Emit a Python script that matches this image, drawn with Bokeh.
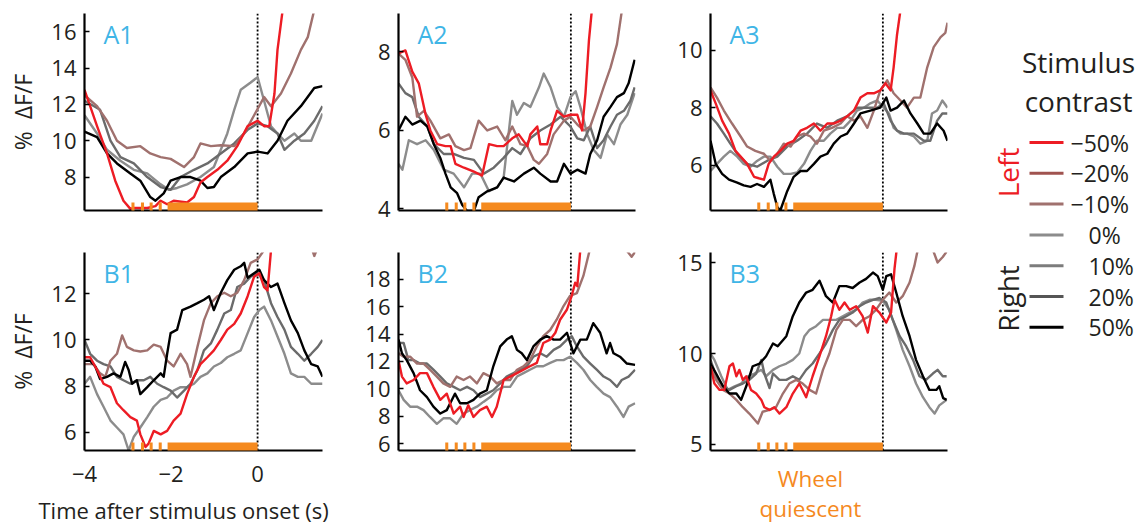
import math
from bokeh.plotting import figure
from bokeh.layouts import row, column
from bokeh.models import Range1d, FixedTicker, Span, BoxAnnotation, Label, LinearAxis
from bokeh.core.properties import value
from bokeh.embed import file_html
from bokeh.resources import INLINE

FONT = "Open Sans"
TEXT = "#231f20"
PANEL_BLUE = "#3fb5e6"
ORANGE = "#f58a1f"

# ---------------------------------------------------------------- data
# Time (s) relative to stimulus onset and mean % dF/F for each contrast.
# Series shown in every panel: -50% (red), -10% (brown), 0% (light gray),
# 20% (dark gray), 50% (black).

# Panel A1
A1_NEG50_T = [-4.00, -3.71, -3.48, -3.29, -3.10, -2.94, -2.86, -2.55, -2.36, -2.24, -2.09, -1.94, -1.63, -1.47, -1.32, -1.16, -0.93, -0.70, -0.47, -0.23, 0.00, 0.15, 0.27, 0.39, 0.46, 0.58]
A1_NEG50_V = [12.8, 10.8, 9.3, 7.8, 6.7, 6.25, 6.3, 6.3, 6.4, 6.7, 6.5, 6.7, 6.6, 6.9, 7.7, 8.0, 8.4, 8.9, 9.7, 10.8, 11.1, 10.8, 10.8, 12.6, 15.0, 17.2]
A1_NEG10_T = [-4.00, -3.71, -3.48, -3.25, -3.02, -2.71, -2.48, -2.24, -2.01, -1.70, -1.47, -1.32, -1.08, -0.85, -0.54, -0.31, -0.08, 0.15, 0.31, 0.54, 0.77, 1.00, 1.16, 1.31]
A1_NEG10_V = [12.5, 11.9, 11.1, 10.0, 9.6, 9.7, 9.3, 9.1, 9.0, 8.55, 9.1, 9.85, 9.7, 9.75, 9.7, 10.4, 11.4, 12.4, 11.9, 12.6, 13.7, 15.0, 15.7, 17.2]
A1_POS0_T = [-4.00, -3.71, -3.48, -3.17, -2.86, -2.55, -2.24, -2.05, -1.86, -1.63, -1.32, -1.01, -0.70, -0.54, -0.39, -0.16, 0.00, 0.15, 0.31, 0.46, 0.62, 0.85, 1.00, 1.24, 1.50]
A1_POS0_V = [11.4, 10.4, 9.5, 8.9, 8.4, 8.2, 7.6, 7.3, 7.4, 7.6, 8.0, 8.55, 10.4, 11.7, 12.8, 13.2, 13.5, 12.2, 10.8, 10.4, 10.0, 10.4, 10.0, 10.0, 11.5]
A1_POS20_T = [-4.00, -3.64, -3.40, -3.17, -2.86, -2.55, -2.24, -2.01, -1.78, -1.47, -1.16, -0.85, -0.54, -0.23, 0.00, 0.23, 0.46, 0.62, 0.85, 1.08, 1.31, 1.50]
A1_POS20_V = [12.2, 11.7, 10.0, 9.1, 8.75, 8.0, 7.45, 7.3, 8.0, 8.4, 8.75, 9.3, 9.85, 10.6, 10.95, 10.8, 10.4, 9.5, 10.0, 10.4, 11.1, 11.9]
A1_POS50_T = [-4.00, -3.71, -3.48, -3.25, -2.94, -2.71, -2.48, -2.36, -2.17, -2.01, -1.78, -1.55, -1.32, -1.16, -1.01, -0.85, -0.54, -0.23, 0.00, 0.23, 0.46, 0.69, 1.00, 1.31, 1.50]
A1_POS50_V = [10.5, 10.2, 9.3, 8.75, 8.2, 7.8, 6.9, 6.7, 7.1, 7.8, 8.0, 8.0, 7.8, 7.4, 7.45, 8.0, 8.55, 9.3, 9.4, 9.3, 10.0, 11.1, 11.9, 12.9, 13.0]

# Panel A2
A2_NEG50_T = [-4.00, -3.84, -3.68, -3.53, -3.37, -3.26, -3.10, -2.91, -2.79, -2.68, -2.48, -2.25, -2.06, -1.90, -1.71, -1.56, -1.36, -1.21, -1.01, -0.94, -0.78, -0.71, -0.55, -0.47, -0.32, -0.16, -0.01, 0.15, 0.26, 0.34, 0.42, 0.49]
A2_NEG50_V = [7.96, 8.04, 7.5, 7.2, 6.4, 6.0, 5.65, 5.6, 5.6, 5.15, 5.05, 4.95, 4.85, 5.65, 5.6, 5.6, 5.8, 5.9, 5.6, 5.9, 6.1, 5.65, 5.65, 6.0, 6.5, 6.35, 6.4, 6.4, 6.0, 6.95, 8.3, 9.1]
A2_NEG10_T = [-4.00, -3.84, -3.68, -3.57, -3.41, -3.26, -3.03, -2.83, -2.68, -2.48, -2.33, -2.14, -1.94, -1.71, -1.52, -1.36, -1.17, -1.01, -0.86, -0.74, -0.55, -0.40, -0.16, -0.01, 0.15, 0.30, 0.45, 0.61, 0.76, 0.92, 1.07, 1.19]
A2_NEG10_V = [7.96, 7.8, 7.35, 6.35, 6.5, 6.25, 5.8, 5.9, 5.6, 5.5, 5.55, 6.25, 6.0, 6.1, 5.75, 6.1, 5.65, 5.6, 5.25, 5.15, 5.4, 5.9, 6.25, 6.35, 6.15, 6.0, 6.1, 6.6, 7.1, 7.6, 8.2, 9.1]
A2_POS0_T = [-4.00, -3.91, -3.76, -3.57, -3.37, -3.18, -2.95, -2.72, -2.48, -2.29, -2.10, -1.90, -1.71, -1.56, -1.36, -1.25, -1.09, -0.94, -0.74, -0.63, -0.47, -0.32, -0.16, -0.01, 0.11, 0.22, 0.38, 0.53, 0.69, 0.84, 1.00, 1.15, 1.31, 1.48]
A2_POS0_V = [5.15, 5.0, 5.75, 5.65, 5.75, 5.5, 5.0, 4.9, 4.55, 4.9, 4.9, 4.45, 4.55, 4.8, 6.75, 6.4, 6.7, 6.6, 7.1, 7.45, 7.1, 6.6, 6.35, 6.85, 7.0, 6.6, 5.9, 5.5, 5.3, 5.9, 5.65, 6.15, 6.4, 6.95]
A2_POS20_T = [-4.00, -3.84, -3.68, -3.53, -3.33, -3.18, -2.95, -2.72, -2.48, -2.25, -2.02, -1.79, -1.56, -1.36, -1.17, -0.94, -0.71, -0.47, -0.24, -0.01, 0.15, 0.30, 0.45, 0.61, 0.76, 0.92, 1.07, 1.23, 1.38, 1.48]
A2_POS20_V = [7.2, 6.95, 6.85, 6.35, 6.1, 5.65, 5.4, 5.4, 5.3, 5.25, 4.9, 5.05, 5.3, 5.55, 5.4, 5.8, 6.0, 6.15, 6.35, 6.1, 5.8, 5.75, 6.1, 5.55, 5.75, 6.1, 6.4, 6.5, 6.75, 7.1]
A2_POS50_T = [-4.00, -3.84, -3.68, -3.49, -3.33, -3.18, -3.03, -2.91, -2.79, -2.64, -2.52, -2.41, -2.25, -2.14, -1.94, -1.71, -1.56, -1.32, -1.09, -0.86, -0.71, -0.47, -0.32, -0.16, -0.01, 0.15, 0.34, 0.45, 0.61, 0.76, 0.92, 1.07, 1.23, 1.34, 1.48]
A2_POS50_V = [6.0, 6.35, 6.15, 6.25, 6.1, 5.65, 5.3, 4.9, 4.55, 4.4, 4.1, 3.95, 3.95, 4.3, 4.45, 4.55, 4.8, 4.7, 4.9, 5.05, 4.9, 4.7, 4.7, 5.15, 4.9, 5.0, 4.9, 5.4, 5.75, 6.35, 6.6, 6.85, 6.95, 7.2, 7.8]

# Panel A3
A3_NEG50_T = [-4.00, -3.88, -3.73, -3.57, -3.42, -3.30, -3.15, -2.99, -2.88, -2.76, -2.65, -2.53, -2.38, -2.22, -2.07, -1.91, -1.76, -1.60, -1.45, -1.29, -1.14, -0.98, -0.83, -0.67, -0.52, -0.36, -0.21, -0.06, 0.06, 0.18, 0.25, 0.33, 0.41]
A3_NEG50_V = [8.6, 8.15, 7.55, 7.1, 6.5, 6.3, 6.05, 5.6, 5.55, 5.5, 6.05, 6.3, 6.5, 6.75, 6.85, 7.2, 7.3, 7.45, 7.2, 7.45, 7.45, 7.55, 7.7, 7.9, 8.35, 8.5, 8.5, 8.6, 8.85, 8.6, 9.4, 10.55, 11.4]
A3_NEG10_T = [-4.00, -3.85, -3.69, -3.50, -3.30, -3.15, -2.96, -2.76, -2.61, -2.45, -2.30, -2.14, -1.99, -1.83, -1.68, -1.53, -1.37, -1.18, -0.98, -0.83, -0.67, -0.52, -0.36, -0.21, -0.06, 0.10, 0.25, 0.41, 0.56, 0.72, 0.87, 1.03, 1.18, 1.34, 1.45, 1.50]
A3_NEG10_V = [8.7, 8.35, 7.9, 7.45, 7.0, 6.65, 6.5, 6.4, 6.15, 6.4, 6.75, 6.65, 7.0, 7.1, 7.0, 6.75, 7.2, 7.3, 7.45, 7.7, 7.55, 7.7, 7.3, 7.9, 8.6, 8.95, 8.5, 8.25, 8.0, 8.35, 8.35, 9.4, 10.1, 10.45, 10.6, 10.95]
A3_POS0_T = [-4.00, -3.85, -3.69, -3.54, -3.38, -3.23, -3.07, -2.92, -2.76, -2.61, -2.45, -2.30, -2.14, -1.99, -1.83, -1.68, -1.53, -1.37, -1.22, -1.06, -0.91, -0.75, -0.60, -0.44, -0.29, -0.13, 0.02, 0.14, 0.25, 0.41, 0.56, 0.72, 0.87, 1.03, 1.14, 1.26, 1.38, 1.50]
A3_POS0_V = [5.8, 6.05, 6.3, 6.5, 6.3, 6.05, 5.95, 6.15, 6.3, 6.3, 5.95, 5.7, 5.7, 5.75, 6.05, 6.5, 6.85, 6.85, 7.1, 7.3, 7.3, 7.55, 7.9, 8.0, 8.15, 8.25, 8.0, 7.8, 7.3, 7.1, 7.1, 7.0, 6.75, 6.85, 7.8, 7.9, 8.25, 8.0]
A3_POS20_T = [-4.00, -3.85, -3.69, -3.54, -3.38, -3.15, -2.92, -2.69, -2.45, -2.22, -1.99, -1.76, -1.53, -1.29, -1.06, -0.83, -0.60, -0.36, -0.13, 0.02, 0.18, 0.33, 0.49, 0.72, 0.95, 1.10, 1.26, 1.38, 1.50]
A3_POS20_V = [7.7, 7.45, 7.1, 6.75, 6.4, 6.05, 5.95, 6.15, 6.3, 6.65, 6.85, 7.1, 7.45, 7.3, 7.55, 7.7, 8.0, 8.0, 8.0, 8.15, 7.55, 7.2, 7.1, 7.1, 6.85, 6.85, 7.55, 7.8, 7.8]
A3_POS50_T = [-4.00, -3.88, -3.73, -3.57, -3.38, -3.23, -3.07, -2.92, -2.76, -2.61, -2.53, -2.45, -2.38, -2.22, -2.07, -1.91, -1.76, -1.60, -1.45, -1.29, -1.14, -0.98, -0.83, -0.67, -0.52, -0.29, -0.06, 0.08, 0.18, 0.33, 0.49, 0.64, 0.80, 0.95, 1.10, 1.26, 1.41, 1.50]
A3_POS50_V = [6.85, 6.05, 5.7, 5.5, 5.4, 5.3, 5.25, 5.35, 5.25, 5.5, 5.0, 4.55, 4.43, 5.1, 5.6, 5.8, 5.8, 6.05, 6.3, 6.4, 6.75, 7.0, 7.1, 7.45, 7.8, 7.9, 8.0, 8.35, 7.9, 8.0, 8.25, 7.8, 7.45, 7.1, 7.1, 7.45, 7.2, 6.85]

# Panel B1
B1_NEG50_T = [-4.00, -3.87, -3.71, -3.56, -3.40, -3.25, -3.10, -2.94, -2.79, -2.71, -2.59, -2.52, -2.40, -2.24, -2.09, -1.94, -1.78, -1.63, -1.47, -1.32, -1.16, -1.01, -0.85, -0.70, -0.54, -0.39, -0.23, -0.08, 0.04, 0.15, 0.23, 0.31]
B1_NEG50_V = [9.25, 9.25, 8.7, 8.1, 7.95, 7.25, 6.95, 6.65, 6.5, 5.9, 5.35, 5.5, 6.05, 5.9, 6.05, 6.5, 6.8, 7.65, 8.4, 8.95, 9.25, 9.55, 10.0, 10.45, 10.7, 11.15, 11.9, 12.75, 12.9, 12.3, 12.15, 13.9]
B1_NEG10_T = [-4.00, -3.79, -3.64, -3.52, -3.40, -3.25, -3.13, -3.02, -2.86, -2.71, -2.55, -2.40, -2.24, -2.09, -1.94, -1.78, -1.63, -1.55, -1.39, -1.24, -1.08, -0.93, -0.77, -0.62, -0.47, -0.31, -0.16, 0.00, 0.15, 1.16, 1.31, 1.43]
B1_NEG10_V = [8.95, 8.95, 8.55, 8.4, 9.1, 9.4, 10.2, 9.7, 9.55, 9.5, 9.55, 9.8, 9.7, 9.1, 8.85, 9.4, 8.95, 8.4, 9.7, 10.85, 11.6, 11.9, 12.05, 11.9, 12.05, 12.6, 13.35, 13.5, 13.9, 14.5, 13.65, 14.2]
B1_POS0_T = [-4.00, -3.87, -3.71, -3.56, -3.40, -3.25, -3.10, -2.98, -2.86, -2.71, -2.55, -2.40, -2.24, -2.09, -1.94, -1.78, -1.63, -1.47, -1.32, -1.16, -1.01, -0.85, -0.70, -0.54, -0.39, -0.23, -0.08, 0.04, 0.15, 0.31, 0.46, 0.62, 0.77, 0.93, 1.08, 1.24, 1.39, 1.50]
B1_POS0_V = [8.1, 8.4, 7.65, 7.1, 6.5, 6.2, 5.9, 5.2, 5.8, 6.2, 6.65, 7.1, 7.4, 7.5, 7.8, 7.95, 7.95, 8.1, 8.4, 8.55, 8.85, 9.0, 9.25, 9.4, 9.55, 10.3, 11.0, 11.3, 11.45, 10.85, 10.15, 9.4, 8.55, 8.4, 8.4, 8.1, 8.1, 8.1]
B1_POS20_T = [-4.00, -3.87, -3.71, -3.56, -3.40, -3.25, -3.10, -2.94, -2.79, -2.63, -2.48, -2.32, -2.17, -2.01, -1.86, -1.70, -1.55, -1.39, -1.24, -1.08, -0.93, -0.77, -0.62, -0.47, -0.31, -0.16, 0.00, 0.15, 0.31, 0.46, 0.62, 0.77, 0.93, 1.08, 1.24, 1.39, 1.50]
B1_POS20_V = [10.0, 9.4, 9.1, 8.95, 8.85, 8.4, 8.25, 8.1, 8.25, 8.25, 8.4, 8.1, 7.95, 7.8, 7.5, 7.8, 8.1, 8.7, 9.55, 9.85, 10.45, 11.15, 11.3, 12.3, 12.45, 12.75, 12.9, 12.6, 11.6, 11.0, 10.45, 9.7, 9.4, 9.1, 9.4, 9.7, 10.0]
B1_POS50_T = [-4.00, -3.87, -3.75, -3.64, -3.48, -3.33, -3.17, -3.06, -2.98, -2.90, -2.79, -2.71, -2.55, -2.40, -2.24, -2.17, -2.09, -2.01, -1.86, -1.74, -1.55, -1.39, -1.24, -1.12, -1.01, -0.85, -0.70, -0.54, -0.39, -0.31, -0.23, -0.08, 0.04, 0.15, 0.31, 0.46, 0.62, 0.77, 0.93, 1.08, 1.24, 1.39, 1.50]
B1_POS50_V = [9.1, 9.1, 8.85, 8.3, 8.4, 8.55, 8.4, 9.05, 8.7, 8.1, 8.25, 7.65, 7.95, 8.25, 8.55, 8.4, 9.4, 10.3, 10.45, 11.3, 11.45, 11.6, 11.75, 11.9, 11.3, 12.05, 12.6, 13.05, 13.2, 13.35, 12.7, 12.9, 13.05, 12.6, 12.3, 12.45, 11.6, 10.85, 10.3, 9.55, 8.95, 8.85, 8.4]

# Panel B2
B2_NEG50_T = [-4.00, -3.92, -3.81, -3.65, -3.50, -3.34, -3.19, -3.03, -2.88, -2.72, -2.57, -2.49, -2.38, -2.26, -2.11, -1.95, -1.83, -1.72, -1.56, -1.41, -1.25, -1.10, -0.95, -0.79, -0.64, -0.48, -0.36, -0.25, -0.09, 0.02, 0.10, 0.15, 0.22]
B2_NEG50_V = [12.1, 10.9, 10.4, 10.65, 11.15, 11.15, 10.15, 9.2, 9.65, 8.2, 8.7, 7.95, 8.8, 7.95, 8.45, 8.7, 7.95, 8.7, 10.65, 10.9, 11.15, 11.4, 11.65, 11.9, 13.35, 13.6, 14.1, 15.05, 15.8, 16.8, 17.75, 17.5, 20.2]
B2_NEG10_T = [-4.00, -3.88, -3.73, -3.57, -3.42, -3.27, -3.11, -2.96, -2.80, -2.65, -2.49, -2.34, -2.18, -2.03, -1.87, -1.72, -1.56, -1.41, -1.25, -1.10, -0.95, -0.79, -0.64, -0.48, -0.33, -0.17, -0.02, 0.14, 0.29, 0.45, 1.22, 1.41, 1.49]
B2_NEG10_V = [12.6, 12.35, 12.35, 11.85, 11.85, 11.4, 10.9, 10.4, 10.15, 10.9, 10.65, 10.9, 10.4, 11.15, 10.9, 10.4, 10.65, 10.65, 11.4, 11.65, 12.1, 13.1, 13.85, 14.3, 15.05, 16.05, 16.8, 17.0, 18.25, 20.3, 20.4, 19.65, 20.0]
B2_POS0_T = [-4.00, -3.88, -3.73, -3.57, -3.42, -3.27, -3.11, -2.96, -2.80, -2.65, -2.49, -2.34, -2.18, -2.03, -1.87, -1.72, -1.56, -1.41, -1.25, -1.10, -0.95, -0.79, -0.64, -0.48, -0.33, -0.17, -0.02, 0.14, 0.29, 0.45, 0.60, 0.76, 0.91, 1.07, 1.22, 1.34, 1.49]
B2_POS0_V = [9.9, 9.2, 8.7, 8.7, 8.45, 7.95, 7.45, 7.85, 7.85, 7.45, 8.2, 8.45, 8.7, 9.05, 9.4, 9.9, 10.15, 10.15, 10.9, 11.15, 11.4, 11.65, 11.65, 11.9, 12.1, 12.1, 12.35, 11.9, 11.4, 10.65, 10.15, 9.65, 9.4, 8.7, 7.95, 8.7, 8.95]
B2_POS20_T = [-4.00, -3.88, -3.77, -3.65, -3.50, -3.34, -3.19, -3.03, -2.88, -2.72, -2.57, -2.41, -2.26, -2.11, -1.95, -1.80, -1.64, -1.49, -1.33, -1.18, -1.02, -0.87, -0.71, -0.56, -0.40, -0.25, -0.09, 0.02, 0.14, 0.29, 0.45, 0.60, 0.76, 0.91, 1.07, 1.18, 1.34, 1.49]
B2_POS20_V = [13.35, 13.35, 12.1, 12.1, 11.85, 11.85, 11.4, 10.9, 10.4, 10.15, 9.9, 10.15, 9.9, 9.4, 9.65, 9.9, 10.4, 10.9, 11.15, 11.4, 11.65, 12.35, 12.6, 12.35, 12.85, 13.1, 13.6, 13.85, 13.1, 12.35, 11.85, 11.4, 10.9, 10.65, 10.15, 10.65, 10.9, 11.4]
B2_POS50_T = [-4.00, -3.92, -3.81, -3.65, -3.50, -3.34, -3.19, -3.03, -2.88, -2.69, -2.57, -2.41, -2.26, -2.11, -1.95, -1.80, -1.64, -1.49, -1.37, -1.25, -1.14, -1.02, -0.87, -0.71, -0.56, -0.40, -0.25, -0.09, 0.06, 0.22, 0.37, 0.52, 0.68, 0.83, 0.91, 0.99, 1.14, 1.30, 1.49]
B2_POS50_V = [13.6, 12.6, 12.1, 11.15, 9.9, 9.4, 8.7, 8.2, 8.45, 9.65, 8.95, 8.95, 9.2, 9.65, 9.9, 11.65, 13.1, 13.6, 13.85, 12.85, 12.6, 12.1, 13.1, 13.6, 13.85, 13.6, 13.6, 14.1, 12.6, 13.6, 13.6, 14.8, 14.1, 12.6, 13.35, 12.6, 12.35, 11.85, 11.75]

# Panel B3
B3_NEG50_T = [-4.00, -3.91, -3.79, -3.68, -3.56, -3.48, -3.40, -3.33, -3.25, -3.17, -3.06, -2.94, -2.82, -2.75, -2.63, -2.52, -2.40, -2.24, -2.09, -1.94, -1.78, -1.63, -1.47, -1.32, -1.20, -1.12, -1.01, -0.89, -0.77, -0.62, -0.47, -0.35, -0.23, -0.08, 0.08, 0.19, 0.27, 0.32]
B3_NEG50_V = [9.3, 8.35, 8.0, 8.0, 9.3, 9.45, 8.75, 9.1, 8.55, 8.75, 8.0, 7.8, 7.45, 7.05, 6.9, 7.05, 6.7, 7.05, 7.8, 8.35, 7.6, 8.75, 9.85, 10.95, 12.05, 12.95, 12.4, 12.8, 12.4, 12.6, 12.05, 11.15, 12.6, 12.25, 11.7, 12.25, 14.65, 15.7]
B3_NEG10_T = [-4.00, -3.87, -3.71, -3.56, -3.40, -3.25, -3.10, -2.90, -2.79, -2.63, -2.48, -2.32, -2.17, -2.01, -1.86, -1.70, -1.55, -1.39, -1.24, -1.08, -0.93, -0.77, -0.62, -0.47, -0.31, -0.16, 0.00, 0.15, 0.31, 0.46, 0.62, 0.73, 0.81, 1.16, 1.27, 1.39, 1.48]
B3_NEG10_V = [9.3, 8.55, 8.0, 7.8, 7.45, 7.05, 6.7, 6.15, 6.8, 6.9, 7.05, 7.8, 8.35, 8.55, 8.35, 8.0, 7.8, 9.1, 10.0, 11.3, 11.85, 11.85, 11.5, 11.85, 12.05, 12.4, 12.95, 13.35, 12.8, 13.15, 13.9, 14.8, 15.7, 15.7, 15.0, 15.3, 15.6]
B3_POS0_T = [-4.00, -3.91, -3.75, -3.60, -3.44, -3.29, -3.13, -2.98, -2.82, -2.71, -2.55, -2.40, -2.24, -2.09, -1.94, -1.82, -1.70, -1.55, -1.39, -1.24, -1.08, -0.93, -0.77, -0.62, -0.47, -0.31, -0.16, 0.00, 0.15, 0.31, 0.46, 0.62, 0.77, 0.93, 1.08, 1.20, 1.31, 1.48]
B3_POS0_V = [10.0, 9.65, 8.75, 8.0, 8.2, 8.35, 8.75, 8.9, 9.1, 8.75, 9.1, 9.3, 9.45, 9.65, 10.0, 10.95, 11.3, 11.5, 11.85, 11.85, 11.85, 12.05, 12.25, 12.4, 12.8, 12.95, 12.95, 12.9, 12.4, 11.3, 10.2, 9.3, 8.35, 7.6, 7.05, 6.7, 7.15, 7.45]
B3_POS20_T = [-4.00, -3.87, -3.71, -3.56, -3.40, -3.25, -3.10, -2.94, -2.82, -2.75, -2.63, -2.55, -2.40, -2.24, -2.09, -1.94, -1.78, -1.63, -1.47, -1.32, -1.16, -1.01, -0.85, -0.70, -0.54, -0.39, -0.23, -0.08, 0.08, 0.23, 0.39, 0.54, 0.70, 0.85, 1.00, 1.16, 1.27, 1.39, 1.48]
B3_POS20_V = [9.65, 8.75, 8.2, 8.0, 8.2, 8.35, 8.55, 8.9, 9.65, 8.9, 8.1, 8.9, 8.55, 8.55, 8.75, 8.55, 9.1, 9.45, 10.0, 10.55, 11.3, 11.85, 12.05, 12.25, 12.6, 12.8, 12.95, 13.05, 12.8, 11.85, 10.95, 10.4, 9.65, 8.75, 8.55, 8.9, 9.1, 8.75, 8.75]
B3_POS50_T = [-4.00, -3.87, -3.71, -3.56, -3.40, -3.29, -3.17, -3.02, -2.86, -2.71, -2.55, -2.44, -2.24, -2.09, -1.94, -1.78, -1.63, -1.47, -1.32, -1.16, -1.01, -0.85, -0.70, -0.54, -0.39, -0.23, -0.12, 0.00, 0.08, 0.19, 0.31, 0.46, 0.62, 0.77, 0.93, 1.08, 1.24, 1.31, 1.40, 1.48]
B3_POS50_V = [9.45, 8.9, 8.2, 7.8, 7.8, 7.45, 8.2, 9.3, 9.45, 9.85, 10.55, 10.4, 10.95, 12.05, 12.8, 13.35, 13.5, 14.0, 13.15, 12.8, 13.7, 13.7, 13.6, 13.9, 14.1, 14.45, 14.25, 13.5, 14.25, 14.35, 13.35, 12.05, 10.95, 9.65, 8.75, 8.0, 8.0, 8.2, 7.55, 7.45]

# Axis limits and ticks
X_LIMITS = (-4.0, 1.5)
B1_XTICKS = [-4, -2, 0]
Y_LIMITS = {"A1": (6.16, 17.0), "A2": (3.96, 8.98), "A3": (4.43, 11.27),
            "B1": (5.2, 13.8), "B2": (5.5, 19.96), "B3": (4.67, 15.55)}
Y_TICKS = {"A1": [8, 10, 12, 14, 16], "A2": [4, 6, 8], "A3": [6, 8, 10],
           "B1": [6, 8, 10, 12], "B2": [6, 8, 10, 12, 14, 16, 18], "B3": [5, 10, 15]}

# Wheel-quiescent period (s): short bouts, then continuous until onset
QUIESCENT_BOUTS = [-2.88, -2.66, -2.46, -2.25]
QUIESCENT_START = -2.08
QUIESCENT_END = 0.0

# Legend entries
CONTRAST_LABELS = ["\u221250%", "\u221220%", "\u221210%", "0%", "10%", "20%", "50%"]
CONTRAST_COLORS = ["#ed1c24", "#a0534f", "#a0716e", "#8c8c8c", "#7c7c7c", "#555555", "#000000"]

# Series drawn in every panel: key -> colour (drawing order = list order)
SERIES = [("POS0", "#8c8c8c"), ("POS20", "#6b6b6b"), ("NEG10", "#a0716e"),
          ("POS50", "#000000"), ("NEG50", "#ed1c24")]

# Where the texts under the lower panels are centred (s on the time axis)
TIME_TITLE_AT = -1.71
QUIESCENT_NOTE_AT = -1.68

# ---------------------------------------------------------------- layout
ROW_A = dict(top=13, frame_h=197, bottom=20)
ROW_B = dict(top=22, frame_h=198, bottom=79)
COL_1 = dict(left=84, frame_w=238, right=13)
COL_2 = dict(left=63, frame_w=237, right=7)
COL_3 = dict(left=68, frame_w=237, right=8)
TOTAL_H = 529


def series_for(name):
    g = globals()
    return [(g[f"{name}_{key}_T"], g[f"{name}_{key}_V"], color) for key, color in SERIES]


def style_axis(ax, size="22px", color=TEXT):
    ax.axis_line_width = 2.2
    ax.axis_line_color = "black"
    ax.major_tick_line_color = "black"
    ax.major_tick_line_width = 1.5
    ax.minor_tick_line_color = None
    ax.major_label_text_font = FONT
    ax.major_label_text_font_size = size
    ax.major_label_text_color = color


def text_axis(at, text, standoff, size, color):
    """An extra time axis below a panel that only carries one text."""
    ax = LinearAxis(ticker=FixedTicker(ticks=[at]), major_label_overrides={at: text})
    style_axis(ax, size, color)
    ax.axis_line_color = None
    ax.major_tick_in = 0
    ax.major_tick_out = 0
    ax.major_label_standoff = standoff
    return ax


def make_panel(name, rowg, colg, first_col=False):
    ylo, yhi = Y_LIMITS[name]
    fw, fh = colg["frame_w"], rowg["frame_h"]
    p = figure(width=colg["left"] + fw + colg["right"],
               height=rowg["top"] + fh + rowg["bottom"],
               x_range=Range1d(*X_LIMITS), y_range=Range1d(ylo, yhi),
               output_backend="svg", toolbar_location=None,
               min_border_left=colg["left"], min_border_right=colg["right"],
               min_border_top=rowg["top"], min_border_bottom=rowg["bottom"])
    p.outline_line_color = None
    p.grid.visible = False

    ux = (X_LIMITS[1] - X_LIMITS[0]) / fw   # data units per pixel
    uy = (yhi - ylo) / fh

    style_axis(p.xaxis[0])
    style_axis(p.yaxis[0])

    p.yaxis.ticker = FixedTicker(ticks=Y_TICKS[name])
    p.yaxis.major_tick_in = 5
    p.yaxis.major_tick_out = 0
    p.yaxis.major_label_standoff = 8
    if first_col:
        p.yaxis.axis_label = "%\u00a0\u00a0\u0394F/F"
        p.yaxis.axis_label_text_font = FONT
        p.yaxis.axis_label_text_font_size = "23px"
        p.yaxis.axis_label_text_font_style = "normal"
        p.yaxis.axis_label_text_color = TEXT
        p.yaxis.axis_label_standoff = 9

    p.xaxis.major_tick_in = 0
    p.xaxis.major_tick_out = 0
    p.xaxis.ticker = FixedTicker(ticks=[])

    # stimulus onset
    p.add_layout(Span(location=0, dimension="height", line_color="black",
                      line_dash="2 2", line_width=1.8, level="underlay"))

    for t, v, color in series_for(name):
        p.line(t, v, line_color=color, line_width=2.4, line_join="round")

    # wheel quiescent markers on the time axis
    bar_lo, bar_hi = ylo - 3 * uy, ylo + 8 * uy
    for tb in QUIESCENT_BOUTS:
        p.add_layout(BoxAnnotation(left=tb - 0.035, right=tb + 0.035, bottom=bar_lo, top=bar_hi,
                                   fill_color=ORANGE, fill_alpha=1.0, line_color=None))
    p.add_layout(BoxAnnotation(left=QUIESCENT_START, right=QUIESCENT_END, bottom=bar_lo, top=bar_hi,
                               fill_color=ORANGE, fill_alpha=1.0, line_color=None))

    # panel name
    p.add_layout(Label(x=X_LIMITS[0] + 19 * ux, y=yhi - 20 * uy, text=name,
                       text_font=FONT, text_font_size="25px", text_color=PANEL_BLUE,
                       text_align="left", text_baseline="middle"))
    return p


a1 = make_panel("A1", ROW_A, COL_1, first_col=True)
a2 = make_panel("A2", ROW_A, COL_2)
a3 = make_panel("A3", ROW_A, COL_3)
b1 = make_panel("B1", ROW_B, COL_1, first_col=True)
b2 = make_panel("B2", ROW_B, COL_2)
b3 = make_panel("B3", ROW_B, COL_3)

# time ticks and time-axis title under B1
b1.xaxis.ticker = FixedTicker(ticks=B1_XTICKS)
b1.xaxis.major_label_overrides = {t: (f"\u2212{abs(t)}" if t < 0 else str(t)) for t in B1_XTICKS}
b1.xaxis.major_label_standoff = 15
b1.add_layout(text_axis(TIME_TITLE_AT, "Time after stimulus onset (s)", 10, "22px", TEXT), "below")

# quiescence note under B3
b3.xaxis.ticker = FixedTicker(ticks=[QUIESCENT_NOTE_AT])
b3.xaxis.major_label_overrides = {QUIESCENT_NOTE_AT: "Wheel"}
b3.xaxis.major_label_text_color = ORANGE
b3.xaxis.major_label_text_font_size = "22.5px"
b3.xaxis.major_label_standoff = 12
b3.add_layout(text_axis(QUIESCENT_NOTE_AT, "quiescent", -4, "22.5px", ORANGE), "below")

# ---------------------------------------------------------------- legend
LW = 190
leg = figure(width=LW, height=TOTAL_H, x_range=Range1d(0, LW), y_range=Range1d(0, TOTAL_H),
             output_backend="svg", toolbar_location=None,
             min_border_left=0, min_border_right=0, min_border_top=0, min_border_bottom=0)
leg.axis.visible = False
leg.grid.visible = False
leg.outline_line_color = None


def up(y):
    return TOTAL_H - y


row_y = [142 + i * 30.8 for i in range(len(CONTRAST_LABELS))]
leg.segment(x0=[74] * len(row_y), x1=[108] * len(row_y), y0=[up(y) for y in row_y],
            y1=[up(y) for y in row_y], line_color=CONTRAST_COLORS, line_width=3)
leg.text(x=[133 - (18 if s.startswith("\u2212") else 0) for s in CONTRAST_LABELS],
         y=[up(y) for y in row_y], text=CONTRAST_LABELS, text_font=value(FONT),
         text_font_size="23px", text_color=TEXT, text_align="left", text_baseline="middle")
leg.text(x=[123, 123], y=[up(61), up(100)], text=["Stimulus", "contrast"], text_font=value(FONT),
         text_font_size="28px", text_color=TEXT, text_align="center", text_baseline="middle")
leg.text(x=[52], y=[up(172)], text=["Left"], angle=math.pi / 2, text_font=value(FONT),
         text_font_size="28px", text_color="#ed1c24", text_align="center", text_baseline="middle")
leg.text(x=[52], y=[up(298)], text=["Right"], angle=math.pi / 2, text_font=value(FONT),
         text_font_size="28px", text_color=TEXT, text_align="center", text_baseline="middle")

layout = row(column(a1, b1), column(a2, b2), column(a3, b3), leg)
open("out.html", "w").write(file_html(layout, INLINE))
